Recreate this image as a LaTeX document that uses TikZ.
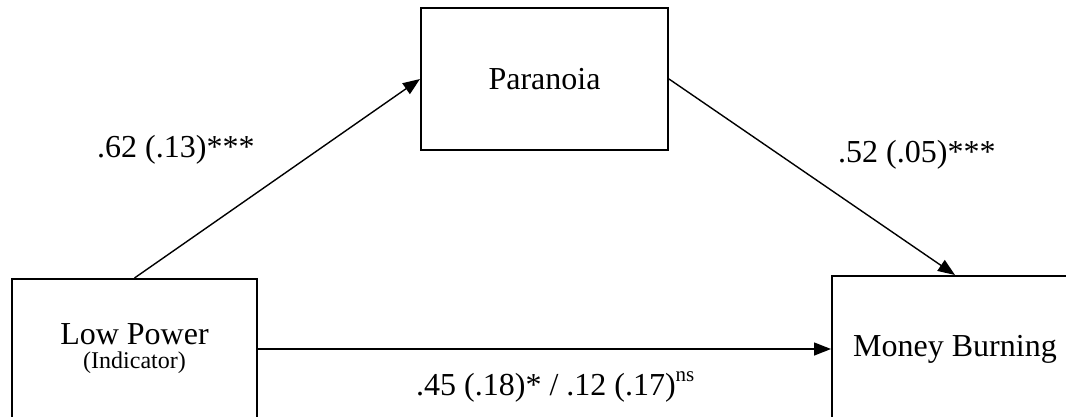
\documentclass[tikz,border=0pt]{standalone}
\usepackage{fontspec}
\setmainfont{Liberation Serif}
\usetikzlibrary{arrows.meta}
\tikzset{
  varbox/.style={draw, line width=2pt, inner sep=0pt, align=center,
    font=\fontsize{32}{23}\selectfont},
  path/.style={line width=1.4pt, -{Triangle[length=17pt,width=13pt]}},
  coef/.style={inner sep=0pt, anchor=base west, font=\fontsize{32}{38}\selectfont}
}
\begin{document}
\begin{tikzpicture}[x=1pt,y=-1pt]
  \clip (0,0) rectangle (1066,416);
  \useasboundingbox (0,0) rectangle (1066,416);
  \node[varbox, minimum width=247pt, minimum height=142pt] (par) at (544.5,79) {Paranoia};
  \node[varbox, minimum width=245pt, minimum height=140pt] (low) at (134.5,349)
    {Low Power\\[1pt]\fontsize{24}{23}\selectfont(Indicator)};
  \node[varbox, minimum width=246pt, minimum height=146pt] (money) at (955,349) {Money Burning};
  \draw[path] (low.north) -- (par.west);
  \draw[path] (par.east) -- (money.north);
  \draw[path] (low.east) -- (money.west);
  \node[coef] (a) at (97,157) {.62 (.13)***};
  \node[coef] (b) at (838,162) {.52 (.05)***};
  \node[coef] (c) at (416,395) {.45 (.18)* / .12 (.17)\raisebox{0.42em}{\fontsize{21}{21}\selectfont ns}};
\end{tikzpicture}
\end{document}
